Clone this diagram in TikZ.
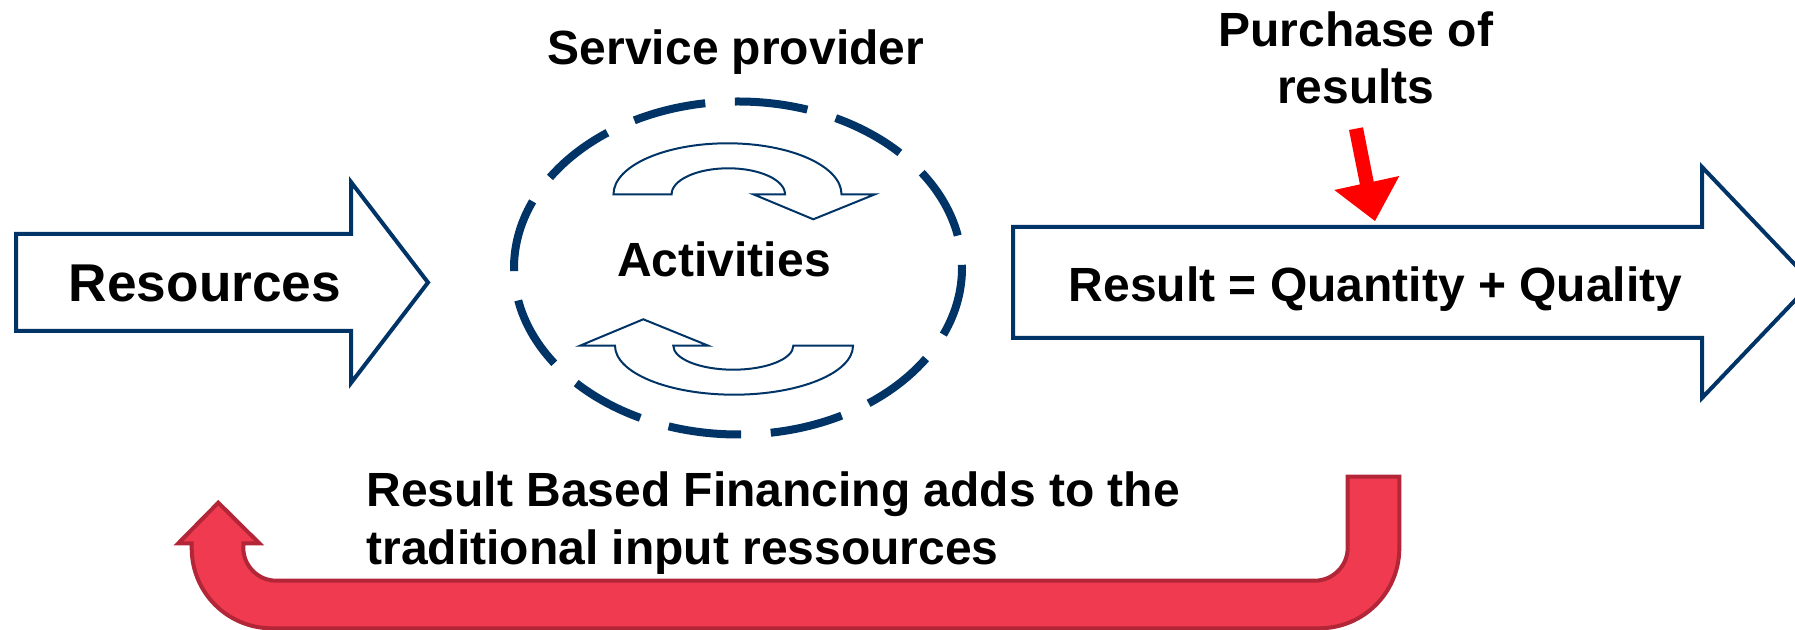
\documentclass[tikz,border=0pt]{standalone}
\usepackage{fontspec}
\setmainfont{Liberation Sans}
\definecolor{navy}{RGB}{0,51,102}
\definecolor{rbfred}{RGB}{239,58,80}
\definecolor{rbfdark}{RGB}{178,38,56}
\begin{document}
\begin{tikzpicture}[x=0.5pt,y=0.5pt,
  blockarrow/.style={draw=navy, line width=2pt, fill=white, line join=miter},
  cyclearrow/.style={draw=navy, line width=1pt, fill=white},
  txt/.style={inner sep=0pt, font=\bfseries\fontsize{24}{28.8}\selectfont, text=black}]
\useasboundingbox (0,0) rectangle (1795,630);
\clip (0,0) rectangle (1795,630);
% Resources block arrow
\draw[blockarrow] (16,396) -- (351,396) -- (351,448) -- (428,347.5) -- (351,247) -- (351,299) -- (16,299) -- cycle;
\node[txt, anchor=base, font=\bfseries\fontsize{26.6}{32}\selectfont] (res) at (205,328.3) {Resources};
% Result block arrow
\draw[blockarrow] (1013,403) -- (1702,403) -- (1702,463) -- (1812,347.5) -- (1702,232) -- (1702,292) -- (1013,292) -- cycle;
\node[txt, anchor=base] (result) at (1375.5,328.3) {Result = Quantity + Quality};
% Service provider ellipse
\draw[navy, line width=4pt, dash pattern=on 36.6pt off 14.8pt, dash phase=35pt] (738,362) ellipse [x radius=112pt, y radius=83.25pt];
\node[txt, anchor=base] (sp) at (736,565.7) {Service provider};
\node[txt, anchor=base] (act) at (724,353.3) {Activities};
% cycle arrows
\draw[cyclearrow] (613.5,435.7) arc[start angle=180, end angle=0, x radius=57pt, y radius=25.5pt]
  -- (875,435.7) -- (813.3,410.7) -- (753.3,435.7) -- (785,435.7)
  arc[start angle=0, end angle=180, x radius=28.35pt, y radius=13pt] -- cycle;
\draw[cyclearrow] (853,284.3) arc[start angle=0, end angle=-180, x radius=59.5pt, y radius=24.5pt]
  -- (580,284.3) -- (643.3,310.7) -- (708.3,284.3) -- (673.3,284.3)
  arc[start angle=180, end angle=360, x radius=30pt, y radius=12pt] -- cycle;
% Purchase of results
\node[txt, anchor=base] (purch1) at (1355.7,583.3) {Purchase of};
\node[txt, anchor=base] (purch2) at (1355.7,526.7) {results};
\fill[red] (1349,500) -- (1363,502.7) -- (1373.7,448.4) -- (1399.3,454) -- (1375,409) -- (1334.3,440) -- (1359.9,445.6) -- cycle;
% Result based financing U arrow
\draw[fill=rbfred, draw=rbfdark, line width=2pt, line join=miter]
  (1399.3,153.3) -- (1347.7,153.3) -- (1347.7,82.3)
  arc[start angle=0, end angle=-90, radius=16.5pt] -- (276.3,49.3)
  arc[start angle=270, end angle=180, radius=16.5pt] -- (243.3,86.7) -- (259.3,86.7) -- (218.3,127.3)
  -- (178.3,86.7) -- (191.7,86.7) -- (191.7,81.7)
  arc[start angle=180, end angle=270, radius=40pt] -- (1319.3,1.7)
  arc[start angle=270, end angle=360, radius=40pt] -- cycle;
\node[txt, anchor=base west] (rbf1) at (366,123.3) {Result Based Financing adds to the};
\node[txt, anchor=base west] (rbf2) at (366,65) {traditional input ressources};
\end{tikzpicture}
\end{document}
